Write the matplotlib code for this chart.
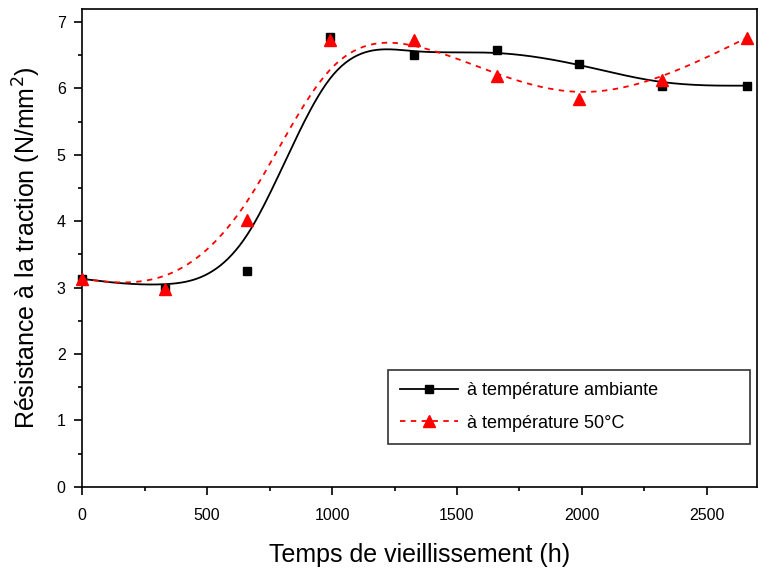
import numpy as np
import matplotlib
matplotlib.use('Agg')
import matplotlib.pyplot as plt
from matplotlib.ticker import MultipleLocator

plt.rcParams['font.family'] = ['Liberation Sans', 'DejaVu Sans']

# temps de vieillissement (h)
temps = [0, 330, 660, 990, 1330, 1660, 1990, 2320, 2660]
# resistance a la traction (N/mm2)
res_ambiante = [3.13, 2.98, 3.25, 6.78, 6.50, 6.58, 6.37, 6.04, 6.04]
res_50 = [3.13, 2.98, 4.02, 6.73, 6.73, 6.19, 5.84, 6.13, 6.76]


def bspline(xs, ys, n=400):
    # courbe B-spline cubique uniforme, points de donnees = points de controle
    px = np.r_[[xs[0]] * 2, xs, [xs[-1]] * 2].astype(float)
    py = np.r_[[ys[0]] * 2, ys, [ys[-1]] * 2].astype(float)
    out_x, out_y = [], []
    for i in range(len(px) - 3):
        t = np.linspace(0, 1, n // len(xs))
        b0 = (1 - t) ** 3 / 6
        b1 = (3 * t ** 3 - 6 * t ** 2 + 4) / 6
        b2 = (-3 * t ** 3 + 3 * t ** 2 + 3 * t + 1) / 6
        b3 = t ** 3 / 6
        out_x.append(b0 * px[i] + b1 * px[i + 1] + b2 * px[i + 2] + b3 * px[i + 3])
        out_y.append(b0 * py[i] + b1 * py[i + 1] + b2 * py[i + 2] + b3 * py[i + 3])
    return np.concatenate(out_x), np.concatenate(out_y)


fig = plt.figure(figsize=(7.62, 5.76), dpi=100)
ax = fig.add_axes([0.108, 0.155, 0.885, 0.83])

bx, by = bspline(temps, res_ambiante)
rx, ry = bspline(temps, res_50)
ax.plot(bx, by, color='black', lw=1.3)
ax.plot(rx, ry, color='red', lw=1.3, ls=(0, (3, 3)))
ax.plot(temps, res_ambiante, 's', color='black', ms=6, clip_on=False, zorder=3)
ax.plot(temps, res_50, '^', color='red', ms=8, clip_on=False, zorder=4)

# legende
ax.plot([], [], '-s', color='black', lw=1.3, ms=6, label='à température ambiante')
ax.plot([], [], '^', color='red', ls=(0, (3, 3)), lw=1.3, ms=8, label='à température 50°C')
leg = ax.legend(loc='upper left', bbox_to_anchor=(0.453, 0.245, 0.537, 0.0), mode='expand',
                frameon=True, fancybox=False, edgecolor='black', fontsize=13,
                handlelength=3.2, handletextpad=0.5, borderpad=0.7, labelspacing=0.85,
                borderaxespad=0)
leg.get_frame().set_linewidth(1.2)

ax.set_xlim(0, 2700)
ax.set_ylim(0, 7.2)
ax.xaxis.set_major_locator(MultipleLocator(500))
ax.xaxis.set_minor_locator(MultipleLocator(250))
ax.yaxis.set_major_locator(MultipleLocator(1))
ax.yaxis.set_minor_locator(MultipleLocator(0.5))
ax.tick_params(which='major', direction='out', length=6, width=1.2, labelsize=11.5)
ax.tick_params(which='minor', direction='out', length=3, width=1.2)
ax.tick_params(axis='x', which='major', pad=9)
ax.tick_params(axis='y', which='major', pad=6)
for s in ax.spines.values():
    s.set_linewidth(1.2)

ax.set_xlabel('Temps de vieillissement (h)', fontsize=18, labelpad=15)
ax.set_ylabel('Résistance à la traction (N/mm$^2$)', fontsize=18, labelpad=10)

plt.savefig('out.png', dpi=100)
